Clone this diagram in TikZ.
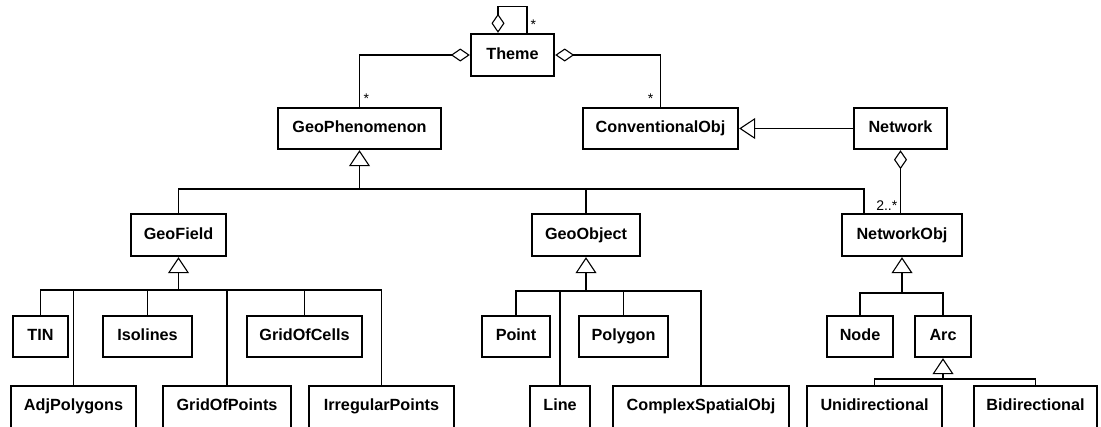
\documentclass[tikz,border=0pt]{standalone}
\usepackage{fontspec}
\setmainfont{Liberation Sans}
\usetikzlibrary{arrows.meta}
\begin{document}
\begin{tikzpicture}[x=1pt,y=-1pt,
  cls/.style={draw, line width=2.4pt, inner sep=0pt, fill=white,
    text height=11.5pt, text depth=3.5pt,
    font=\bfseries\fontsize{16.2}{18}\selectfont},
  lowcls/.style={cls, minimum height=47, text depth=9.5pt},
  link/.style={line width=1.1pt},
  gen/.style={link, -{Triangle[open, length=16pt, width=21pt, line width=1.1pt]}},
  agg/.style={link, -{Diamond[open, length=19pt, width=13pt, line width=1.1pt]}},
  mult/.style={font=\fontsize{14}{16}\selectfont, inner sep=1pt}]
\useasboundingbox (0,0) rectangle (1101,426);

% classes: upper levels
\node[cls, minimum width=83, minimum height=42] (Theme) at (512.5,55) {Theme};
\node[cls, minimum width=163, minimum height=41] (GeoPhenomenon) at (359.5,128.5) {GeoPhenomenon};
\node[cls, minimum width=155, minimum height=41] (ConventionalObj) at (660.5,128.5) {ConventionalObj};
\node[cls, minimum width=93, minimum height=41] (Network) at (900.5,128.5) {Network};
\node[cls, minimum width=95, minimum height=42] (GeoField) at (178.5,235) {GeoField};
\node[cls, minimum width=108, minimum height=42] (GeoObject) at (586,235) {GeoObject};
\node[cls, minimum width=120, minimum height=42] (NetworkObj) at (902,235) {NetworkObj};

% leaf classes, first row
\node[cls, minimum width=55, minimum height=41] (TIN) at (40.5,336.5) {TIN};
\node[cls, minimum width=89, minimum height=41] (Isolines) at (147.5,336.5) {Isolines};
\node[cls, minimum width=115, minimum height=41] (GridOfCells) at (304.5,336.5) {GridOfCells};
\node[cls, minimum width=68, minimum height=41] (Point) at (516,336.5) {Point};
\node[cls, minimum width=89, minimum height=41] (Polygon) at (623.5,336.5) {Polygon};
\node[cls, minimum width=66, minimum height=41] (Node) at (860,336.5) {Node};
\node[cls, minimum width=56, minimum height=41] (Arc) at (943,336.5) {Arc};

% leaf classes, second row (they run past the lower edge)
\node[lowcls, minimum width=125] (AdjPolygons) at (73.5,409.5) {AdjPolygons};
\node[lowcls, minimum width=128] (GridOfPoints) at (227,409.5) {GridOfPoints};
\node[lowcls, minimum width=145] (IrregularPoints) at (381.5,409.5) {IrregularPoints};
\node[lowcls, minimum width=60] (Line) at (560,409.5) {Line};
\node[lowcls, minimum width=176] (ComplexSpatialObj) at (701,409.5) {ComplexSpatialObj};
\node[lowcls, minimum width=135] (Unidirectional) at (874.5,409.5) {Unidirectional};
\node[lowcls, minimum width=123] (Bidirectional) at (1035.5,409.5) {Bidirectional};

% bus points of the generalization trees
\coordinate (busGP) at (359.5,189);
\coordinate (busGF) at (178.5,290);
\coordinate (busGO) at (586,291);
\coordinate (busNO) at (902,293);
\coordinate (busArc) at (943,379);

% aggregations around Theme
\draw[agg] (GeoPhenomenon.north) |- (Theme.west);
\draw[agg] (ConventionalObj.north) |- (Theme.east);
\draw[agg] ([xshift=14.5pt]Theme.north) -- ++(0,-26) -| ([xshift=-14.5pt]Theme.north);
\node[mult, anchor=south west] (mGP) at ([xshift=3pt,yshift=2pt]GeoPhenomenon.north) {*};
\node[mult, anchor=south east] (mCO) at ([xshift=-6pt,yshift=2pt]ConventionalObj.north) {*};
\node[mult, anchor=south west] (mTh) at ([xshift=17pt,yshift=2pt]Theme.north) {*};

% Network
\draw[gen] (Network.west) -- (ConventionalObj.east);
\draw[agg] (Network.south |- NetworkObj.north) -- (Network.south);
\node[mult, anchor=south east] (mNO) at ([xshift=-2pt,yshift=1pt]Network.south |- NetworkObj.north) {2..*};

% GeoPhenomenon subclasses
\draw[gen] (busGP) -- (GeoPhenomenon.south);
\draw[link] (GeoField.north) |- (busGP);
\draw[link] (GeoObject.north) |- (busGP);
\draw[link] ([xshift=-38pt]NetworkObj.north) |- (busGP);

% GeoField subclasses
\draw[gen] (busGF) -- (GeoField.south);
\draw[link] (TIN.north) |- (busGF);
\draw[link] (AdjPolygons.north) |- (busGF);
\draw[link] (Isolines.north) |- (busGF);
\draw[link] (GridOfPoints.north) |- (busGF);
\draw[link] (GridOfCells.north) |- (busGF);
\draw[link] (IrregularPoints.north) |- (busGF);

% GeoObject subclasses
\draw[gen] (busGO) -- (GeoObject.south);
\draw[link] (Point.north) |- (busGO);
\draw[link] (Line.north) |- (busGO);
\draw[link] (Polygon.north) |- (busGO);
\draw[link] (ComplexSpatialObj.north) |- (busGO);

% NetworkObj subclasses
\draw[gen] (busNO) -- (NetworkObj.south);
\draw[link] (Node.north) |- (busNO);
\draw[link] (Arc.north) |- (busNO);

% Arc subclasses
\draw[gen] (busArc) -- (Arc.south);
\draw[link] (Unidirectional.north) |- (busArc);
\draw[link] (Bidirectional.north) |- (busArc);
\end{tikzpicture}
\end{document}
